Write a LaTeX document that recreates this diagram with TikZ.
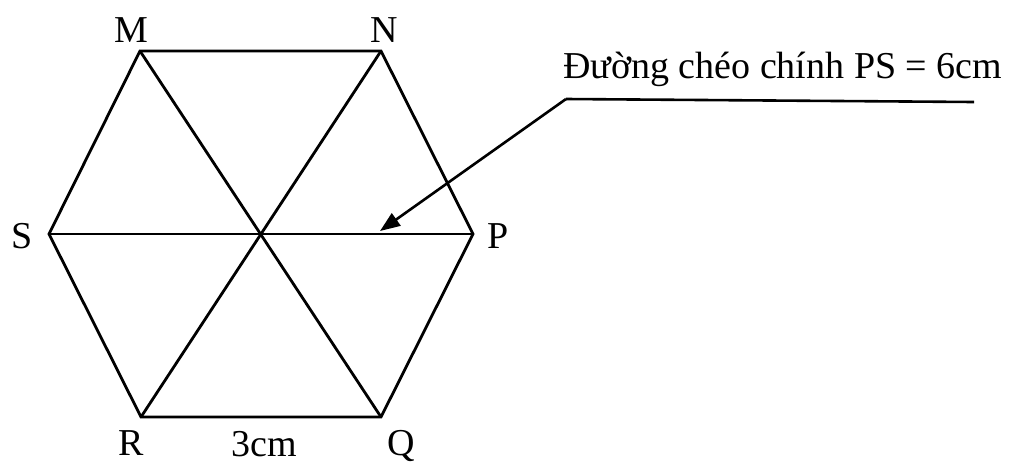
\documentclass[tikz,border=0pt]{standalone}
\usepackage{fontspec}
\setmainfont{Liberation Serif}
\usetikzlibrary{arrows.meta}
\begin{document}
\begin{tikzpicture}[x=1pt,y=-1pt,
  edge/.style={line width=2.8pt,line join=miter},
  lbl/.style={anchor=base,inner sep=0pt,font=\fontsize{38}{42}\selectfont},
  pointer/.style={line width=2.6pt,-{Triangle[length=20pt,width=15pt]}}]
\useasboundingbox (0,0) rectangle (1011,464);
\coordinate (M) at (140,51);
\coordinate (N) at (381,51);
\coordinate (P) at (473,234);
\coordinate (Q) at (381,417);
\coordinate (R) at (141,417);
\coordinate (S) at (49,234);
\coordinate (O) at (261,234);
\coordinate (T) at (380,231);
\coordinate (E) at (566,99);
\coordinate (F) at (974,102);
\draw[edge] (M) -- (N) -- (P) -- (Q) -- (R) -- (S) -- cycle;
\draw[edge] (M) -- (Q);
\draw[edge] (N) -- (R);
\draw[edge] (S) -- (P);
\draw[line width=2.6pt] (F) -- (E);
\draw[pointer] (E) -- (T);
\node[lbl] (lM) at (131,42) {M};
\node[lbl] (lN) at (384,42) {N};
\node[lbl] (lS) at (22,248) {S};
\node[lbl] (lP) at (498,248) {P};
\node[lbl] (lR) at (131,455) {R};
\node[lbl] (lQ) at (401,455) {Q};
\node[lbl] (l3) at (264,456) {3cm};
\node[lbl,anchor=base west] (note) at (563,78) {Đường chéo chính PS = 6cm};
\end{tikzpicture}
\end{document}
